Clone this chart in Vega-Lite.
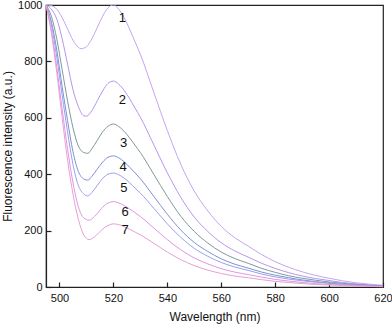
{
  "$schema": "https://vega.github.io/schema/vega-lite/v6.json",
  "width": 337,
  "height": 282,
  "autosize": {"type": "none"},
  "padding": {"left": 46, "top": 5, "right": 9, "bottom": 41},
  "background": "white",
  "config": {
    "view": {"stroke": "#222", "strokeWidth": 1.2},
    "font": "Liberation Sans",
    "axis": {"grid": false, "domainColor": "#222", "domainWidth": 1.2, "tickColor": "#222", "tickWidth": 1.2, "labelFont": "Liberation Sans", "labelFontSize": 11, "labelColor": "#111", "titleFont": "Liberation Sans", "titleFontSize": 12, "titleFontWeight": "normal", "titleColor": "#111"}
  },
  "datasets": {
    "curves": [
      {"c":"1","w":495,"v":1000},{"c":"1","w":497,"v":998},{"c":"1","w":499,"v":985},{"c":"1","w":501,"v":955},{"c":"1","w":503,"v":915},{"c":"1","w":505,"v":875},{"c":"1","w":507,"v":850},{"c":"1","w":508,"v":845},{"c":"1","w":510,"v":852},{"c":"1","w":512,"v":880},{"c":"1","w":514,"v":920},{"c":"1","w":516,"v":960},{"c":"1","w":518,"v":990},{"c":"1","w":520,"v":1000},
      {"c":"1","w":522,"v":985},{"c":"1","w":524,"v":955},{"c":"1","w":526,"v":915},{"c":"1","w":528,"v":870},{"c":"1","w":530,"v":825},{"c":"1","w":535,"v":690},{"c":"1","w":540,"v":555},{"c":"1","w":545,"v":435},{"c":"1","w":550,"v":340},{"c":"1","w":555,"v":270},{"c":"1","w":560,"v":215},{"c":"1","w":565,"v":175},{"c":"1","w":570,"v":145},{"c":"1","w":575,"v":115},{"c":"1","w":580,"v":90},{"c":"1","w":585,"v":70},{"c":"1","w":590,"v":54},{"c":"1","w":595,"v":41},{"c":"1","w":600,"v":31},{"c":"1","w":605,"v":22},{"c":"1","w":610,"v":15},{"c":"1","w":615,"v":10},{"c":"1","w":620,"v":6},

      {"c":"2","w":495,"v":1000},{"c":"2","w":497,"v":985},{"c":"2","w":499,"v":950},{"c":"2","w":501,"v":880},{"c":"2","w":503,"v":790},{"c":"2","w":505,"v":700},{"c":"2","w":507,"v":640},{"c":"2","w":509,"v":607},{"c":"2","w":510,"v":606},{"c":"2","w":512,"v":625},{"c":"2","w":514,"v":660},{"c":"2","w":516,"v":695},{"c":"2","w":518,"v":722},{"c":"2","w":520,"v":730},
      {"c":"2","w":522,"v":719},{"c":"2","w":524,"v":697},{"c":"2","w":526,"v":668},{"c":"2","w":528,"v":635},{"c":"2","w":530,"v":602},{"c":"2","w":535,"v":504},{"c":"2","w":540,"v":405},{"c":"2","w":545,"v":318},{"c":"2","w":550,"v":248},{"c":"2","w":555,"v":197},{"c":"2","w":560,"v":157},{"c":"2","w":565,"v":128},{"c":"2","w":570,"v":106},{"c":"2","w":575,"v":84},{"c":"2","w":580,"v":66},{"c":"2","w":585,"v":51},{"c":"2","w":590,"v":39},{"c":"2","w":595,"v":30},{"c":"2","w":600,"v":23},{"c":"2","w":605,"v":16},{"c":"2","w":610,"v":11},{"c":"2","w":615,"v":7},{"c":"2","w":620,"v":4},

      {"c":"3","w":495,"v":1000},{"c":"3","w":497,"v":960},{"c":"3","w":499,"v":880},{"c":"3","w":501,"v":770},{"c":"3","w":503,"v":660},{"c":"3","w":505,"v":565},{"c":"3","w":507,"v":500},{"c":"3","w":509,"v":477},{"c":"3","w":510.5,"v":474},{"c":"3","w":512,"v":490},{"c":"3","w":514,"v":520},{"c":"3","w":516,"v":550},{"c":"3","w":518,"v":570},{"c":"3","w":520,"v":578},
      {"c":"3","w":522,"v":569},{"c":"3","w":524,"v":552},{"c":"3","w":526,"v":529},{"c":"3","w":528,"v":503},{"c":"3","w":530,"v":477},{"c":"3","w":535,"v":399},{"c":"3","w":540,"v":321},{"c":"3","w":545,"v":251},{"c":"3","w":550,"v":197},{"c":"3","w":555,"v":156},{"c":"3","w":560,"v":124},{"c":"3","w":565,"v":101},{"c":"3","w":570,"v":84},{"c":"3","w":575,"v":66},{"c":"3","w":580,"v":52},{"c":"3","w":585,"v":40},{"c":"3","w":590,"v":31},{"c":"3","w":595,"v":24},{"c":"3","w":600,"v":18},{"c":"3","w":605,"v":13},{"c":"3","w":610,"v":9},{"c":"3","w":615,"v":6},{"c":"3","w":620,"v":3},

      {"c":"4","w":495,"v":1000},{"c":"4","w":497,"v":940},{"c":"4","w":499,"v":840},{"c":"4","w":501,"v":710},{"c":"4","w":503,"v":590},{"c":"4","w":505,"v":480},{"c":"4","w":507,"v":410},{"c":"4","w":509,"v":383},{"c":"4","w":510.5,"v":379},{"c":"4","w":512,"v":392},{"c":"4","w":514,"v":418},{"c":"4","w":516,"v":443},{"c":"4","w":518,"v":460},{"c":"4","w":520,"v":465},
      {"c":"4","w":522,"v":458},{"c":"4","w":524,"v":444},{"c":"4","w":526,"v":425},{"c":"4","w":528,"v":405},{"c":"4","w":530,"v":384},{"c":"4","w":535,"v":321},{"c":"4","w":540,"v":258},{"c":"4","w":545,"v":202},{"c":"4","w":550,"v":158},{"c":"4","w":555,"v":126},{"c":"4","w":560,"v":100},{"c":"4","w":565,"v":81},{"c":"4","w":570,"v":67},{"c":"4","w":575,"v":53},{"c":"4","w":580,"v":42},{"c":"4","w":585,"v":33},{"c":"4","w":590,"v":25},{"c":"4","w":595,"v":19},{"c":"4","w":600,"v":14},{"c":"4","w":605,"v":10},{"c":"4","w":610,"v":7},{"c":"4","w":615,"v":5},{"c":"4","w":620,"v":3},

      {"c":"5","w":495,"v":1000},{"c":"5","w":497,"v":930},{"c":"5","w":499,"v":815},{"c":"5","w":501,"v":680},{"c":"5","w":503,"v":550},{"c":"5","w":505,"v":435},{"c":"5","w":507,"v":360},{"c":"5","w":509,"v":330},{"c":"5","w":510.5,"v":323},{"c":"5","w":512,"v":335},{"c":"5","w":514,"v":360},{"c":"5","w":516,"v":385},{"c":"5","w":518,"v":400},{"c":"5","w":520,"v":404},
      {"c":"5","w":522,"v":398},{"c":"5","w":524,"v":386},{"c":"5","w":526,"v":370},{"c":"5","w":528,"v":351},{"c":"5","w":530,"v":333},{"c":"5","w":535,"v":279},{"c":"5","w":540,"v":224},{"c":"5","w":545,"v":176},{"c":"5","w":550,"v":137},{"c":"5","w":555,"v":109},{"c":"5","w":560,"v":87},{"c":"5","w":565,"v":71},{"c":"5","w":570,"v":59},{"c":"5","w":575,"v":46},{"c":"5","w":580,"v":36},{"c":"5","w":585,"v":28},{"c":"5","w":590,"v":22},{"c":"5","w":595,"v":17},{"c":"5","w":600,"v":13},{"c":"5","w":605,"v":9},{"c":"5","w":610,"v":6},{"c":"5","w":615,"v":4},{"c":"5","w":620,"v":2},

      {"c":"6","w":495,"v":1000},{"c":"6","w":497,"v":910},{"c":"6","w":499,"v":780},{"c":"6","w":501,"v":630},{"c":"6","w":503,"v":490},{"c":"6","w":505,"v":370},{"c":"6","w":507,"v":285},{"c":"6","w":509,"v":245},{"c":"6","w":511,"v":237},{"c":"6","w":513,"v":250},{"c":"6","w":515,"v":272},{"c":"6","w":517,"v":292},{"c":"6","w":519,"v":301},{"c":"6","w":520,"v":303},
      {"c":"6","w":522,"v":298},{"c":"6","w":524,"v":289},{"c":"6","w":526,"v":277},{"c":"6","w":528,"v":264},{"c":"6","w":530,"v":250},{"c":"6","w":535,"v":209},{"c":"6","w":540,"v":168},{"c":"6","w":545,"v":132},{"c":"6","w":550,"v":103},{"c":"6","w":555,"v":82},{"c":"6","w":560,"v":65},{"c":"6","w":565,"v":53},{"c":"6","w":570,"v":44},{"c":"6","w":575,"v":35},{"c":"6","w":580,"v":27},{"c":"6","w":585,"v":21},{"c":"6","w":590,"v":16},{"c":"6","w":595,"v":12},{"c":"6","w":600,"v":9},{"c":"6","w":605,"v":7},{"c":"6","w":610,"v":5},{"c":"6","w":615,"v":3},{"c":"6","w":620,"v":2},

      {"c":"7","w":495,"v":1000},{"c":"7","w":497,"v":900},{"c":"7","w":499,"v":760},{"c":"7","w":501,"v":600},{"c":"7","w":503,"v":450},{"c":"7","w":505,"v":330},{"c":"7","w":507,"v":240},{"c":"7","w":509,"v":185},{"c":"7","w":511,"v":168},{"c":"7","w":513,"v":178},{"c":"7","w":515,"v":196},{"c":"7","w":517,"v":213},{"c":"7","w":519,"v":222},{"c":"7","w":520,"v":224},
      {"c":"7","w":522,"v":221},{"c":"7","w":524,"v":214},{"c":"7","w":526,"v":205},{"c":"7","w":528,"v":195},{"c":"7","w":530,"v":185},{"c":"7","w":535,"v":155},{"c":"7","w":540,"v":124},{"c":"7","w":545,"v":97},{"c":"7","w":550,"v":76},{"c":"7","w":555,"v":60},{"c":"7","w":560,"v":48},{"c":"7","w":565,"v":39},{"c":"7","w":570,"v":33},{"c":"7","w":575,"v":26},{"c":"7","w":580,"v":20},{"c":"7","w":585,"v":16},{"c":"7","w":590,"v":12},{"c":"7","w":595,"v":9},{"c":"7","w":600,"v":7},{"c":"7","w":605,"v":5},{"c":"7","w":610,"v":3},{"c":"7","w":615,"v":2},{"c":"7","w":620,"v":1}
    ],
    "labels": [
      {"c":"1","w":523.3,"v":955},
      {"c":"2","w":523.3,"v":664},
      {"c":"3","w":523.8,"v":510},
      {"c":"4","w":523.6,"v":427},
      {"c":"5","w":523.9,"v":352},
      {"c":"6","w":524.3,"v":267},
      {"c":"7","w":524.3,"v":202}
    ]
  },
  "layer": [
    {
      "data": {"name": "curves"},
      "mark": {"type": "line", "interpolate": "monotone", "strokeWidth": 1},
      "encoding": {
        "x": {"field": "w", "type": "quantitative", "scale": {"domain": [495, 620], "nice": false, "zero": false},
          "axis": {"orient": "bottom", "values": [500, 510, 520, 530, 540, 550, 560, 570, 580, 590, 600, 610, 620], "format": "d",
            "labelExpr": "datum.value % 20 === 0 ? datum.label : ''",
            "tickSize": {"condition": {"test": "datum.value % 20 === 0", "value": -5}, "value": -3},
            "title": "Wavelength (nm)", "labelPadding": 10, "titlePadding": 8, "labelFlush": false}},
        "y": {"field": "v", "type": "quantitative", "scale": {"domain": [0, 1000], "nice": false},
          "axis": {"orient": "left", "values": [0, 100, 200, 300, 400, 500, 600, 700, 800, 900, 1000], "format": "d",
            "labelExpr": "datum.value % 200 === 0 ? datum.label : ''",
            "tickSize": {"condition": {"test": "datum.value % 200 === 0", "value": -5}, "value": -3},
            "title": "Fluorescence intensity (a.u.)", "labelPadding": 9, "titlePadding": 3, "labelFlush": false}},
        "color": {"field": "c", "type": "nominal", "legend": null,
          "scale": {"domain": ["1","2","3","4","5","6","7"], "range": ["#c4a4f4", "#b894ec", "#80989c", "#7f8fd6", "#98a0ec", "#e294e6", "#e7a0d2"]}}
      }
    },
    {
      "data": {"name": "labels"},
      "mark": {"type": "text", "fontSize": 13, "color": "#111", "font": "Liberation Sans"},
      "encoding": {
        "x": {"field": "w", "type": "quantitative"},
        "y": {"field": "v", "type": "quantitative"},
        "text": {"field": "c"}
      }
    }
  ]
}
